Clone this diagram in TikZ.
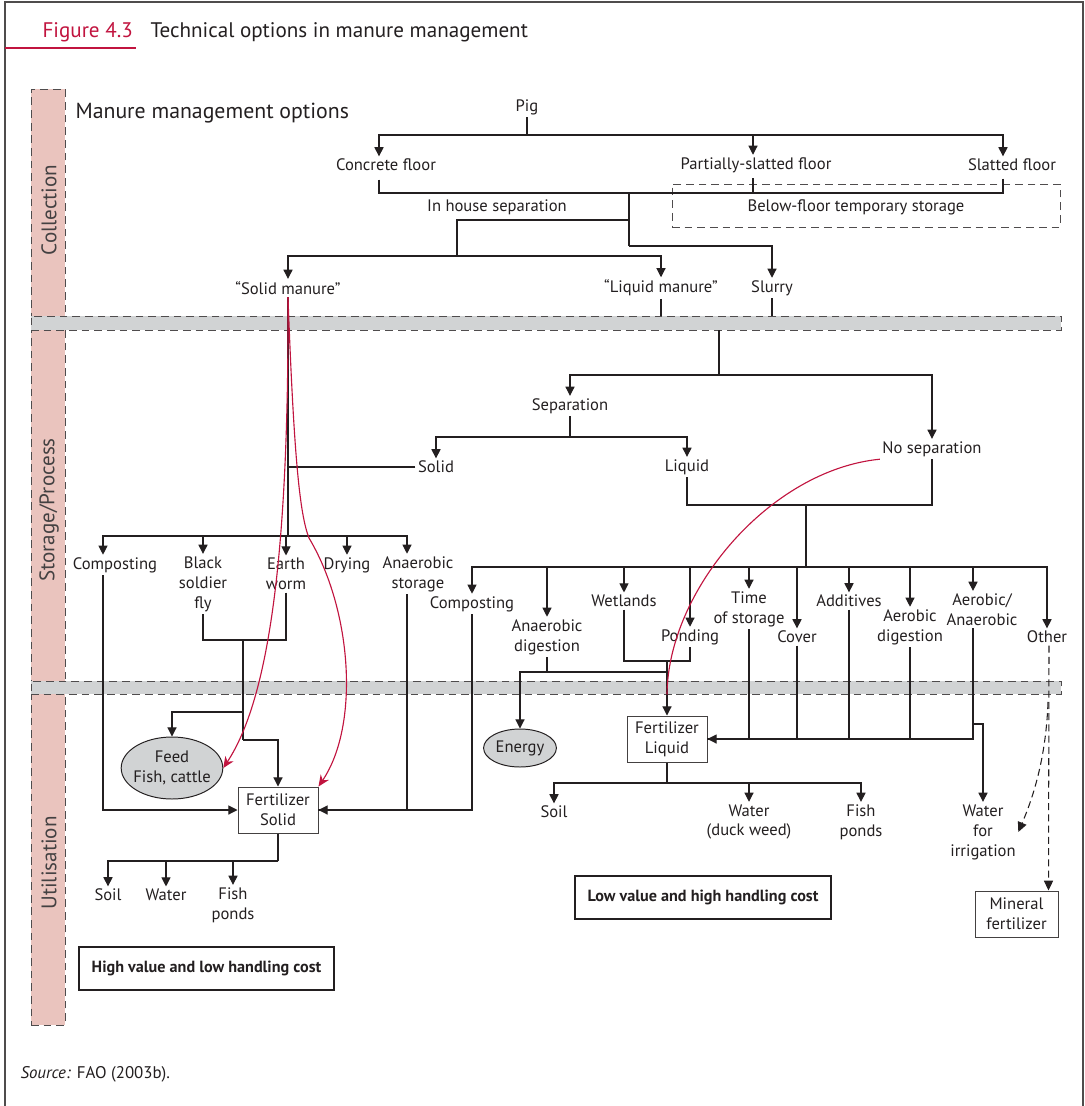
\documentclass[tikz,border=0pt]{standalone}
\usepackage{fontspec}
\setmainfont{PT Sans}
\usetikzlibrary{arrows.meta,calc,shapes.geometric}

\definecolor{figred}{HTML}{C1143F}
\definecolor{barpink}{HTML}{EAC4BE}
\definecolor{bandgray}{HTML}{D1D3D4}
\definecolor{ink}{HTML}{231F20}
\newcommand\pxu{0.025cm}
\newcommand\lblsize{\fontsize{11.8}{14.2}\selectfont}
\newcommand\bigsize{\fontsize{15}{18}\selectfont}

\tikzset{
  lbl/.style={inner sep=1.5pt, align=center, font=\lblsize, text=ink},
  arr/.style={-{Triangle[width=6.5pt,length=6.5pt]}},
  darr/.style={dash pattern=on 5pt off 3pt, -{Triangle[width=6.5pt,length=7pt]}},
  redarr/.style={figred, line width=0.8pt, -{Stealth[width=7pt,length=8pt]}},
  redline/.style={figred, line width=0.8pt},
  fertbox/.style={lbl, draw=ink!85, line width=0.7pt, minimum width=80*\pxu, minimum height=46*\pxu},
  oval/.style={lbl, ellipse, draw=ink, fill=bandgray, line width=0.7pt},
  band/.style={draw=ink!80, fill=bandgray, dash pattern=on 5.5pt off 3.5pt, line width=0.7pt, inner sep=0pt},
  costbox/.style={draw=ink, line width=1.6pt, text=ink, inner sep=0pt,
    font=\fontsize{11.5}{13}\selectfont\bfseries, minimum height=43*\pxu},
  stage/.style={rotate=90, font=\bigsize, text=ink!85, inner sep=0pt},
}

\begin{document}
\begin{tikzpicture}[x=0.025cm, y=-0.025cm, line width=0.75pt, draw=ink]
    \useasboundingbox (0,0) rectangle (1085,1106);
    % frame and heading
    \draw[ink!80, line width=1pt] (5,1106) -- (5,2) -- (1083,2) -- (1083,1106);
    \draw[figred, line width=1.5pt] (5,48) -- (136,48);
    \node[anchor=base west, inner sep=0pt, font=\bigsize, text=figred] (fignum) at (42,37) {Figure 4.3};
    \node[anchor=base west, inner sep=0pt, font=\bigsize, text=ink] (figtitle) at (150,37) {Technical options in manure management};
    \node[anchor=base west, inner sep=0pt, font=\fontsize{15.5}{18}\selectfont, text=ink] (mmo) at (75,118) {Manure management options};

    % stage column and bands
    \node[band, draw=ink!80, fill=barpink, minimum width=34*\pxu, minimum height=936*\pxu] (colbar) at (48,557) {};
    \node[band, minimum width=1030*\pxu, minimum height=14*\pxu] (band1) at (546,323) {};
    \node[band, minimum width=1030*\pxu, minimum height=13*\pxu] (band2) at (546,687.5) {};
    \node[stage] (collection) at (49,210) {Collection};
    \node[stage] (storage) at (49,510) {Storage/Process};
    \node[stage] (utilisation) at (49,863) {Utilisation};

    % collection
    \node[lbl] (pig) at (527,107) {Pig};
    \node[lbl] (concrete) at (386,165) {Concrete floor};
    \node[lbl] (partial) at (756,165) {Partially-slatted floor};
    \node[lbl] (slatted) at (1012,165) {Slatted floor};
    \node[band, fill=none, minimum width=388*\pxu, minimum height=43*\pxu] (tmpstore) at (866,205.5) {};
    \node[lbl] (tmplbl) at (856,207) {Below-floor temporary storage};
    \node[lbl] (ihsep) at (497,207) {In house separation};
    \node[lbl] (solidm) at (288,288) {“Solid manure”};
    \node[lbl] (liquidm) at (661,288) {“Liquid manure”};
    \node[lbl] (slurry) at (772,288) {Slurry};

    % storage / process
    \node[lbl] (separation) at (570,406) {Separation};
    \node[lbl] (nosep) at (932,449) {No separation};
    \node[lbl] (solid) at (436,467) {Solid};
    \node[lbl] (liquid) at (687,467) {Liquid};
    \node[lbl] (compS) at (115,565) {Composting};
    \node[lbl] (bsf) at (203,584) {Black\\soldier\\fly};
    \node[lbl] (ew) at (286,574) {Earth\\worm};
    \node[lbl] (dry) at (347,565) {Drying};
    \node[lbl] (anst) at (418,574) {Anaerobic\\storage};
    \node[lbl] (compL) at (472,604) {Composting};
    \node[lbl] (andig) at (547,637) {Anaerobic\\digestion};
    \node[lbl] (wet) at (624,601) {Wetlands};
    \node[lbl] (pond) at (690,637) {Ponding};
    \node[lbl] (tos) at (749,609) {Time\\of storage};
    \node[lbl] (cover) at (797,637) {Cover};
    \node[lbl] (add) at (849,601) {Additives};
    \node[lbl] (aerdig) at (910,627) {Aerobic\\digestion};
    \node[lbl] (aeran) at (982,609.5) {Aerobic/\\Anaerobic};
    \node[lbl] (other) at (1047,637) {Other};

    % utilisation
    \node[oval, inner xsep=-2pt, inner ysep=1pt, minimum width=99*\pxu, minimum height=62*\pxu] (feed) at (172,768) {Feed\\Fish, cattle};
    \node[fertbox] (fertS) at (278,810) {Fertilizer\\Solid};
    \node[lbl] (soilS) at (108,895) {Soil};
    \node[lbl] (waterS) at (166,895) {Water};
    \node[lbl] (fishS) at (233,905) {Fish\\ponds};
    \node[oval, inner sep=1pt, minimum width=72*\pxu, minimum height=38*\pxu] (energy) at (520,748) {Energy};
    \node[fertbox] (fertL) at (667,739) {Fertilizer\\Liquid};
    \node[lbl] (soilL) at (554,812) {Soil};
    \node[lbl] (waterL) at (749,822) {Water\\(duck weed)};
    \node[lbl] (fishL) at (861,822) {Fish\\ponds};
    \node[lbl] (irrig) at (983,832) {Water\\for\\irrigation};
    \node[fertbox, minimum width=83*\pxu] (mineral) at (1016.5,914) {Mineral\\fertilizer};
    \node[costbox, minimum width=255*\pxu] (hvbox) at (206.5,968.5) {High value and low handling cost};
    \node[costbox, minimum width=256*\pxu] (lvbox) at (703,897.5) {Low value and high handling cost};
    \node[anchor=base west, inner sep=0pt, font=\fontsize{12}{14}\selectfont, text=ink] (source) at (20,1078) {\textit{Source:} FAO (2003b).};

    % collection connectors
    \coordinate (pigbus) at (527,135);
    \draw (pig.south) -- (pigbus);
    \draw[arr] (pigbus) -| ($(concrete.north)+(-7,0)$);
    \draw[arr] (pigbus) -| ($(partial.north)+(-3,0)$);
    \draw[arr] (pigbus) -| ($(slatted.north)+(-9,0)$);
    \coordinate (floorbus) at (629,193);
    \draw ($(concrete.south)+(-7,6)$) |- (floorbus);
    \draw ($(partial.south)+(-3,3)$) |- (floorbus);
    \draw ($(slatted.south)+(-9,5)$) |- (floorbus);
    \coordinate (ihsplit) at (629,220);
    \coordinate (slurrysplit) at (629,246);
    \draw (floorbus) -- (slurrysplit);
    \draw[arr] (slurrysplit) -| (slurry.north);
    \coordinate (manbus) at (457,256);
    \draw (ihsplit) -| (manbus);
    \draw[arr] (manbus) -| (solidm.north);
    \draw[arr] (manbus) -| (liquidm.north);
    \draw (liquidm.south) -- (liquidm.south |- band1.north);
    \draw (slurry.south) -- (slurry.south |- band1.north);

    % storage connectors
    \coordinate (sepbus) at (719,375);
    \draw (band1.south -| sepbus) -- (sepbus);
    \draw[arr] (sepbus) -| (separation.north);
    \draw[arr] (sepbus) -| (nosep.north);
    \coordinate (sepsplit) at (570,437);
    \draw (separation.south) -- (sepsplit);
    \draw[arr] (sepsplit) -| (solid.north);
    \draw[arr] (sepsplit) -| (liquid.north);
    \coordinate (liqbus) at (806,505);
    \draw (liquid.south) |- (liqbus);
    \draw (nosep.south) |- (liqbus);
    \coordinate (optbus) at (806,567);
    \draw (liqbus) -- (optbus);
    \foreach \nm in {compL,andig,wet,pond,tos,cover,add,aerdig,other}
        \draw[arr] (optbus) -| (\nm.north);
    \draw[arr] (optbus) -| ($(aeran.north)+(-9,0)$);

    \coordinate (solidbus) at (288,536);
    \draw (solidm.south) -- (solidbus);
    \draw (solid.west) -- (solid.west -| solidbus);
    \foreach \nm in {bsf,ew,dry}
        \draw[arr] (solidbus) -| (\nm.north);
    \draw[arr] (solidbus) -| ($(compS.north)+(-12,0)$);
    \draw[arr] (solidbus) -| ($(anst.north)+(-11,0)$);

    % utilisation connectors
    \coordinate (wormbus) at (243,640);
    \draw (bsf.south) |- (wormbus);
    \draw (ew.south) |- (wormbus);
    \coordinate (feedsplit) at (243,712);
    \coordinate (fertsplit) at (243,740);
    \draw (wormbus) -- (fertsplit);
    \draw[arr] (feedsplit) -| (feed.north);
    \draw[arr] (fertsplit) -| (fertS.north);
    \draw[arr] ($(compS.south)+(-12,0)$) |- (fertS.west);
    \draw[arr] (compL.south) |- (fertS.east);
    \draw ($(anst.south)+(-11,0)$) |- (fertS.east);

    \coordinate (pondbus) at (667,661);
    \draw (wet.south) |- (pondbus);
    \draw (pond.south) |- (pondbus);
    \draw[arr] (pondbus) -- (fertL.north);
    \coordinate (digbus) at (667,672);
    \draw (andig.south) |- (digbus);
    \draw[arr] (digbus) -| (energy.north);
    \foreach \nm in {tos,cover,add,aerdig}
        \draw (\nm.south) |- (fertL.east);
    \draw[arr] ($(aeran.south)+(-9,0)$) |- (fertL.east);
    \coordinate (irrsplit) at (973,724);
    \draw[arr] (irrsplit) -| (irrig.north);

    \coordinate (fertLbus) at (667,783);
    \draw (fertL.south) -- (fertLbus);
    \foreach \nm in {soilL,waterL,fishL}
        \draw[arr] (fertLbus) -| (\nm.north);
    \coordinate (fertSbus) at (278,861);
    \draw (fertS.south) -- (fertSbus);
    \foreach \nm in {soilS,waterS,fishS}
        \draw[arr] (fertSbus) -| (\nm.north);

    \draw[darr] ($(other.south)+(2,0)$) -- ($(mineral.north east)+(-10,0)$);
    \coordinate (otherfork) at (1048,702);
    \draw[darr] (otherfork) .. controls (1046,760) and (1032,800) .. (irrig.east);

    % red flows
    \draw[redarr] (solidm.south) .. controls (289,560) and (268,700) .. (feed.east);
    \draw[redarr] (solidm.south) .. controls (294,460) and (300,515) .. (309,538)
        .. controls (352,610) and (360,725) .. (fertS.north east);
    \draw[redline] (nosep.south west) .. controls (770,470) and (668,590) .. (band2.south -| fertL.north);
\end{tikzpicture}
\end{document}
